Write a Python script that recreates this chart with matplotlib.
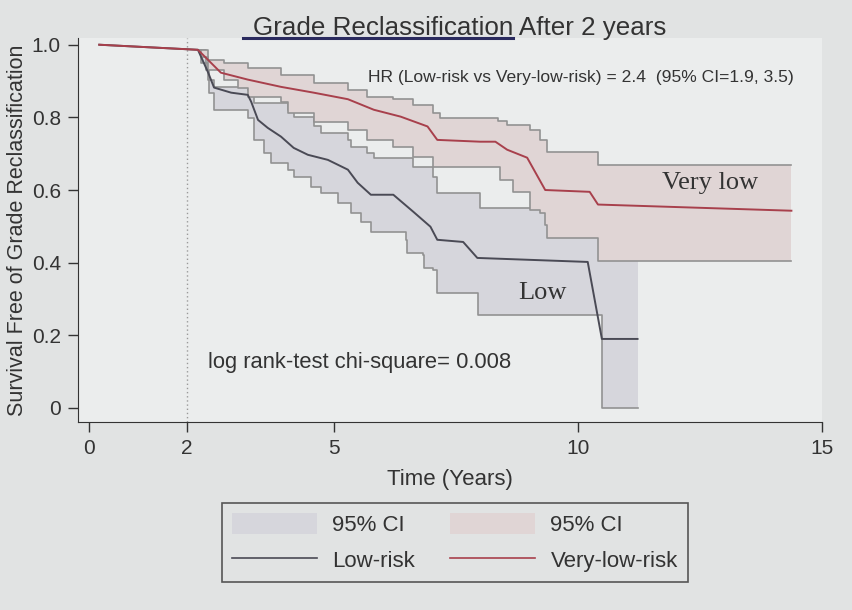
import numpy as np
import matplotlib
matplotlib.use("Agg")
import matplotlib.pyplot as plt
from matplotlib.patches import Patch
from matplotlib.lines import Line2D

plt.rcParams.update({"font.family": ["Liberation Sans", "DejaVu Sans"]})

# Kaplan-Meier estimate, very-low-risk group (years, survival)
vl_t = [0.2, 2.22, 2.69, 3.24, 3.92, 4.59, 5.29, 5.82, 6.37, 6.92, 7.12, 8.0, 8.31,
        8.55, 8.96, 9.33, 10.24, 10.41, 14.37]
vl_s = [1.0, 0.986, 0.923, 0.904, 0.884, 0.868, 0.850, 0.821, 0.802, 0.775, 0.738,
        0.733, 0.733, 0.711, 0.689, 0.600, 0.595, 0.560, 0.543]
# 95% CI of very-low-risk (step changes)
vlu_t = [2.22, 2.43, 2.76, 3.24, 3.92, 4.59, 5.29, 5.69, 6.22, 6.63, 7.04, 7.18,
         8.37, 8.55, 9.02, 9.22, 9.37, 10.41, 14.37]
vlu_s = [0.986, 0.959, 0.950, 0.937, 0.917, 0.895, 0.876, 0.857, 0.850, 0.835,
         0.813, 0.799, 0.790, 0.780, 0.766, 0.738, 0.705, 0.670, 0.670]
vll_t = [2.22, 2.29, 2.43, 2.76, 3.04, 3.24, 3.92, 4.06, 4.59, 5.29, 5.69, 6.22,
         6.63, 7.04, 8.41, 8.67, 9.02, 9.22, 9.33, 9.37, 10.41, 14.37]
vll_s = [0.986, 0.967, 0.931, 0.904, 0.882, 0.857, 0.843, 0.813, 0.788, 0.766,
         0.738, 0.719, 0.691, 0.664, 0.628, 0.595, 0.545, 0.537, 0.504, 0.468,
         0.405, 0.405]

# Kaplan-Meier estimate, low-risk group
low_t = [0.2, 2.22, 2.43, 2.55, 2.90, 3.24, 3.31, 3.45, 3.65, 3.92, 4.18, 4.47,
         4.88, 5.29, 5.49, 5.76, 6.22, 6.63, 6.98, 7.12, 7.65, 7.94, 10.2, 10.49,
         11.22]
low_s = [1.0, 0.986, 0.923, 0.882, 0.868, 0.862, 0.843, 0.793, 0.771, 0.747,
         0.716, 0.697, 0.683, 0.656, 0.620, 0.587, 0.587, 0.540, 0.499, 0.463,
         0.457, 0.413, 0.402, 0.190, 0.190]
# 95% CI of low-risk
lowu_t = [2.22, 2.39, 2.45, 2.55, 3.24, 3.37, 4.06, 4.18, 4.59, 4.73, 5.29, 5.35,
          5.69, 5.82, 6.63, 7.04, 7.12, 8.0, 11.22]
lowu_s = [0.986, 0.931, 0.904, 0.884, 0.876, 0.840, 0.821, 0.802, 0.775, 0.758,
          0.738, 0.719, 0.702, 0.689, 0.664, 0.636, 0.592, 0.551, 0.551]
lowl_t = [2.22, 2.29, 2.43, 2.45, 2.55, 3.24, 3.37, 3.57, 3.71, 4.06, 4.18, 4.53,
          4.73, 5.08, 5.35, 5.55, 5.76, 6.47, 6.51, 6.82, 6.84, 7.04, 7.12, 7.96,
          10.49, 11.22]
lowl_s = [0.986, 0.950, 0.904, 0.868, 0.821, 0.799, 0.738, 0.702, 0.675, 0.656,
          0.636, 0.609, 0.592, 0.565, 0.537, 0.512, 0.485, 0.463, 0.427, 0.421,
          0.386, 0.380, 0.317, 0.256, 0.0, 0.0]

xticks = [0, 2, 5, 10, 15]
yticks = [0, 0.2, 0.4, 0.6, 0.8, 1.0]
ytick_labels = ["0", "0.2", "0.4", "0.6", "0.8", "1.0"]

bg_out = "#e1e3e3"
bg_in = "#ebeded"
grey_fill = "#d6d6dc"
pink_fill = "#e0d5d5"
ci_line = "#929292"
low_col = "#4a4a55"
vl_col = "#a8404c"
txt = "#333333"


def step_at(ts, vs, grid):
    idx = np.searchsorted(ts, grid, side="right") - 1
    idx = np.clip(idx, 0, len(vs) - 1)
    return np.asarray(vs)[idx]


fig = plt.figure(figsize=(8.52, 6.1), dpi=100, facecolor=bg_out)
ax = fig.add_axes([0.091, 0.308, 0.874, 0.63])
ax.set_facecolor(bg_in)

# low-risk band
g = np.union1d(lowu_t, lowl_t)
ax.fill_between(g, step_at(lowl_t, lowl_s, g), step_at(lowu_t, lowu_s, g),
                step="post", color=grey_fill, lw=0, zorder=1)
ax.step(lowu_t, lowu_s, where="post", color=ci_line, lw=1.2, zorder=2)
ax.step(lowl_t, lowl_s, where="post", color=ci_line, lw=1.2, zorder=2)

# very-low-risk band
g = np.union1d(vlu_t, vll_t)
ax.fill_between(g, step_at(vll_t, vll_s, g), step_at(vlu_t, vlu_s, g),
                step="post", color=pink_fill, lw=0, zorder=3)
ax.step(vlu_t, vlu_s, where="post", color=ci_line, lw=1.2, zorder=4)
ax.step(vll_t, vll_s, where="post", color=ci_line, lw=1.2, zorder=4)

ax.plot(low_t, low_s, color=low_col, lw=1.4, zorder=5)
ax.plot(vl_t, vl_s, color=vl_col, lw=1.4, zorder=6)

ax.axvline(2, color="#9a9a9a", lw=1, ls=(0, (1, 2)), zorder=0.5)

ax.set_xlim(-0.245, 14.98)
ax.set_ylim(-0.039, 1.019)
ax.set_xticks(xticks)
ax.set_yticks(yticks)
ax.set_yticklabels(ytick_labels)
ax.tick_params(direction="out", length=7, width=1, labelsize=15, colors=txt,
               pad=5)
ax.tick_params(axis="x", pad=5)
for s in ["top", "right"]:
    ax.spines[s].set_visible(False)
for s in ["left", "bottom"]:
    ax.spines[s].set_color(txt)
ax.set_xlabel("Time (Years)", fontsize=16, color=txt, labelpad=8)
ax.set_ylabel("Survival Free of Grade Reclassification", fontsize=15.5,
              color=txt, labelpad=3)

ax.text(5.71, 0.909, "HR (Low-risk vs Very-low-risk) = 2.4  (95% CI=1.9, 3.5)",
        fontsize=12.6, color=txt, va="center", zorder=7)
ax.text(2.43, 0.124, "log rank-test chi-square= 0.008", fontsize=15.8,
        color=txt, va="center", zorder=7)
ax.text(11.73, 0.62, "Very low", fontsize=19, family="Liberation Serif",
        color=txt, va="center", zorder=7)
ax.text(8.78, 0.317, "Low", fontsize=19, family="Liberation Serif",
        color=txt, va="center", zorder=7)

# title with underline on the first part
t1 = fig.text(0.297, 0.942, "Grade Reclassification", fontsize=18.7,
              color=txt, ha="left", va="baseline")
fig.canvas.draw()
r = fig.canvas.get_renderer()
bb = t1.get_window_extent(r).transformed(fig.transFigure.inverted())
fig.text(bb.x1, 0.942, " After 2 years", fontsize=18.7, color=txt,
         ha="left", va="baseline")
fig.add_artist(Line2D([bb.x0 - 0.012, bb.x1], [0.938, 0.938],
                      transform=fig.transFigure, color="#2a2a5e", lw=2.2))

handles = [
    Patch(facecolor=grey_fill, edgecolor="none", label="95% CI"),
    Line2D([0], [0], color=low_col, lw=1.2, label="Low-risk"),
    Patch(facecolor=pink_fill, edgecolor="none", label="95% CI"),
    Line2D([0], [0], color=vl_col, lw=1.2, label="Very-low-risk"),
]
leg = fig.legend(handles=handles, ncol=2, loc="center",
                 bbox_to_anchor=(0.534, 0.111), fontsize=16, frameon=True,
                 fancybox=False, handlelength=3.8, handleheight=1.1,
                 handletextpad=0.7, columnspacing=1.6, labelspacing=0.55,
                 borderpad=0.45)
leg.get_frame().set_edgecolor(txt)
leg.get_frame().set_facecolor(bg_out)
leg.get_frame().set_linewidth(1.2)
for t in leg.get_texts():
    t.set_color(txt)

fig.savefig("out.png", dpi=100, facecolor=bg_out)
